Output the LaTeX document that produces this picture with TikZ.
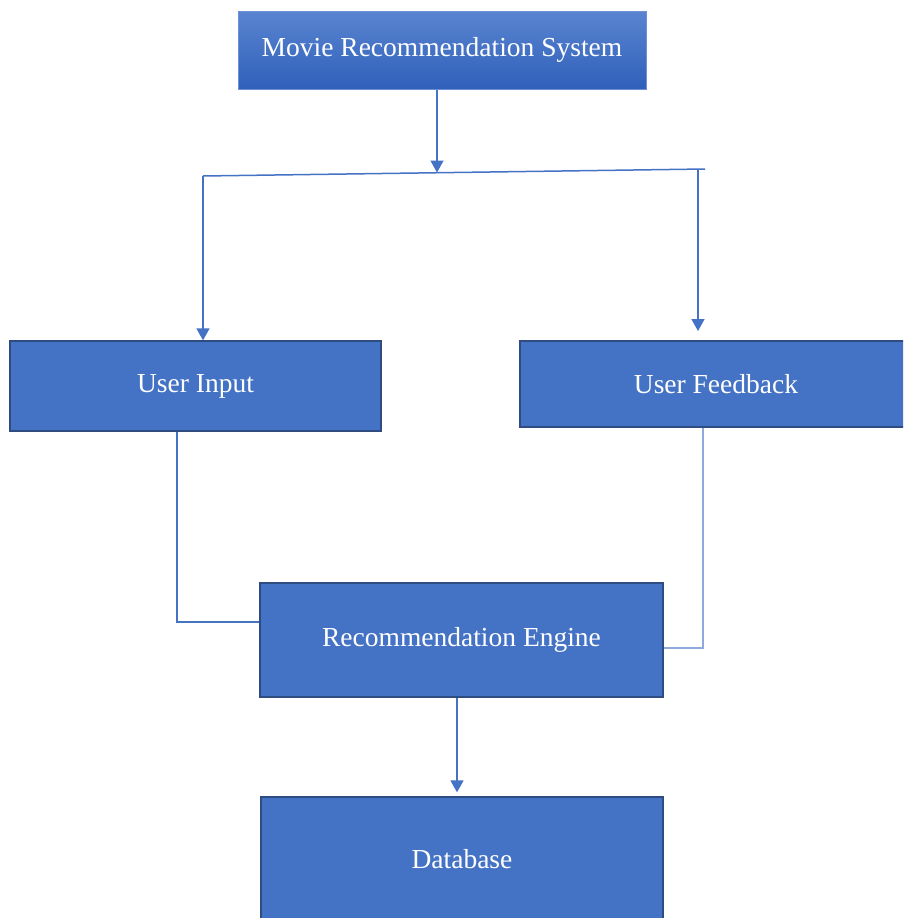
\documentclass[tikz,border=0pt]{standalone}
\usepackage{fontspec}
\setmainfont{Liberation Serif}
\usetikzlibrary{arrows.meta}
\definecolor{boxfill}{HTML}{4472C4}
\definecolor{boxedge}{HTML}{2F4C80}
\definecolor{gtop}{HTML}{5A84D0}
\definecolor{gbot}{HTML}{2F60BA}
\definecolor{gedge}{HTML}{6C8FD6}
\definecolor{lnc}{HTML}{4472C4}
\definecolor{lnlight}{HTML}{8EA9DB}
\tikzset{
  box/.style={rectangle, fill=boxfill, draw=boxedge, line width=1.3pt, inner sep=0pt,
    text=white, font=\fontsize{27.5}{30}\selectfont},
  topbox/.style={rectangle, top color=gtop, bottom color=gbot, draw=gedge, line width=1pt,
    inner sep=0pt, text=white, font=\fontsize{27.5}{30}\selectfont},
  ln/.style={draw=lnc, line width=1.5pt},
  lnl/.style={draw=lnlight, line width=2pt},
  arr/.style={ln, -{Triangle[length=12pt,width=13pt]}}
}
\begin{document}
\begin{tikzpicture}[x=1pt,y=-1pt]
\useasboundingbox (0,0) rectangle (903,918);
\clip (0,0) rectangle (903,918);
\fill[white] (0,0) rectangle (903,918);
% nodes
\node[topbox, minimum width=408pt, minimum height=78pt] (top) at (442,50) {Movie Recommendation System};
\node[box, minimum width=371pt, minimum height=90pt] (ui) at (195.5,386) {User Input};
\node[box, minimum width=400pt, minimum height=86pt] (fb) at (720,384) {\hspace*{-8pt}User Feedback};
\node[box, minimum width=403pt, minimum height=114pt] (eng) at (461.5,640) {Recommendation Engine};
\node[box, minimum width=402pt, minimum height=124pt] (db) at (462,859) {Database};
% coordinates of the splitter line
\coordinate (hl) at (203,176);
\coordinate (hr) at (705,169);
\coordinate (j) at (437,172.5);
\coordinate (rt) at (698,169.5);
\coordinate (rb) at (698,331);
% connectors
\draw[arr] (top.south -| j) -- (j);
\draw[ln] (hl) -- (hr);
\draw[arr] (hl) -- (ui.north -| hl);
\draw[arr] (rt) -- (rb);
\draw[ln] ([xshift=-18.5pt]ui.south) |- ([yshift=18pt]eng.west);
\draw[lnl] ([xshift=-17pt]fb.south) |- ([yshift=-8pt]eng.east);
\draw[arr, shorten >=4pt] ([xshift=-4.5pt]eng.south) -- (db.north -| 457,0);
\end{tikzpicture}
\end{document}
